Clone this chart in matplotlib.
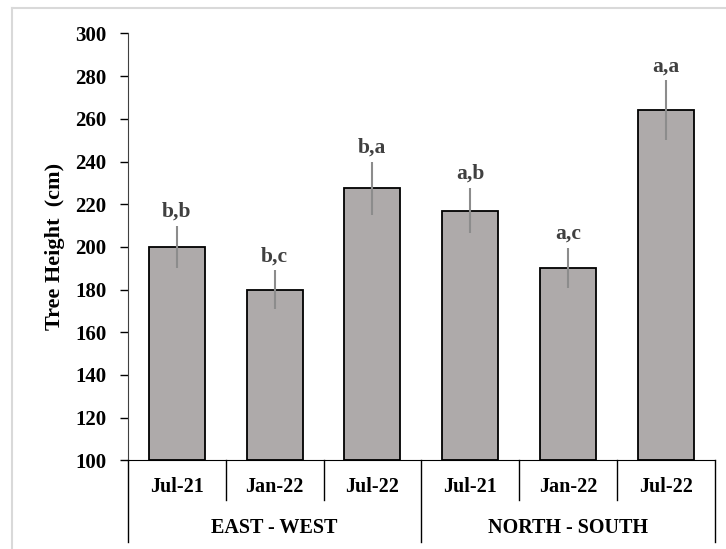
import matplotlib.pyplot as plt
import matplotlib.transforms as mtransforms
from matplotlib.lines import Line2D
import numpy as np

plt.rcParams['font.family'] = ['Liberation Serif', 'DejaVu Serif']
plt.rcParams['font.weight'] = 'bold'

# two orientations, three sampling dates each
groups = ["EAST - WEST", "NORTH - SOUTH"]
months = ["Jul-21", "Jan-22", "Jul-22", "Jul-21", "Jan-22", "Jul-22"]

# mean tree height (cm) and error
height = np.array([200, 180, 227.5, 217, 190, 264])
err = np.array([10, 9, 12.5, 10.5, 9.5, 14])

# significance letters
letters = ["b,b", "b,c", "b,a", "a,b", "a,c", "a,a"]

x = np.arange(len(months))

fig = plt.figure(figsize=(7.26, 5.49), dpi=100)
ax = fig.add_axes([0.1763, 0.1616, 0.8079, 0.7774])

ax.bar(x, height - 100, bottom=100, width=0.573, color='#aeaaaa',
       edgecolor='black', linewidth=1.3, zorder=2)
ax.errorbar(x, height, yerr=err, fmt='none', ecolor='#8c8c8c',
            elinewidth=1.5, capsize=0, zorder=3)

for xi, h, e, lab in zip(x, height, err, letters):
    ax.annotate(lab, (xi, h + e), xytext=(0, 3), textcoords='offset points',
                ha='center', va='bottom', fontsize=15.5, fontweight='bold',
                color='#404040')

ax.set_xlim(-0.5, 5.5)
ax.set_ylim(100, 300)
ax.set_yticks(np.arange(100, 301, 20))
ax.tick_params(axis='y', direction='out', length=5.5, width=1, pad=10,
               labelsize=15, colors='black')
ax.set_xticks([])
ax.set_ylabel("Tree Height  (cm)", fontsize=16, fontweight='bold')
ax.yaxis.set_label_coords(-0.108, 0.5)

for side in ['top', 'right']:
    ax.spines[side].set_visible(False)
ax.spines['left'].set_color('#404040')
ax.spines['bottom'].set_color('black')

# two-level category axis under the bars
trans = mtransforms.blended_transform_factory(ax.transData, fig.transFigure)
for xs in [-0.5, 0.5, 1.5, 2.5, 3.5, 4.5, 5.5]:
    y_end = 1 - 542 / 549 if xs in (-0.5, 2.5, 5.5) else 1 - 500 / 549
    ax.plot([xs, xs], [0.1616, y_end], transform=trans, color='black',
            linewidth=1, clip_on=False)

for xi, m in zip(x, months):
    ax.text(xi, 0.113, m, transform=trans, ha='center', va='center',
            fontsize=14.5, fontweight='bold')

for gi, g in enumerate(groups):
    ax.text(gi * 3 + 1, 0.038, g, transform=trans, ha='center', va='center',
            fontsize=14.5, fontweight='bold')

# light frame along top and left edges
fig.add_artist(Line2D([12 / 726, 12 / 726], [0, 1 - 8 / 549],
                      transform=fig.transFigure, color='#d9d9d9', linewidth=1.5))
fig.add_artist(Line2D([12 / 726, 1], [1 - 8 / 549, 1 - 8 / 549],
                      transform=fig.transFigure, color='#d9d9d9', linewidth=1.5))

plt.savefig("out.png", dpi=100)
plt.close()
